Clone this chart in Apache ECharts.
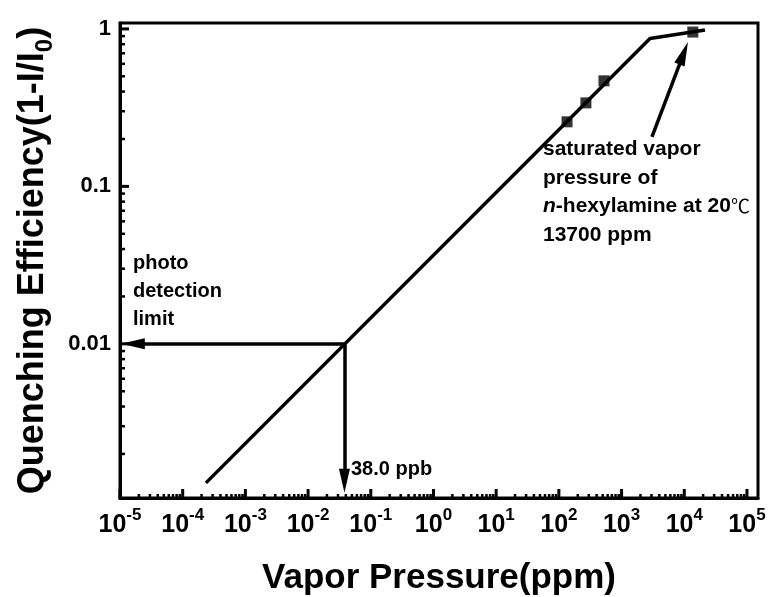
<!DOCTYPE html>
<html>
<head>
<meta charset="utf-8">
<script src="https://cdn.jsdelivr.net/npm/echarts@6/dist/echarts.min.js"></script>
<style>
  html, body { margin: 0; padding: 0; background: #fff; }
  #chart { width: 768px; height: 597px; }
</style>
</head>
<body>
<div id="chart"></div>
<script>
// fitted line (ppm vs 1-I/I0)
var fitX = [2.35e-4, 2840, 21400];
var fitY = [0.00131, 0.87, 0.985];
// measured points
var measX = [135, 270, 524, 13700];
var measY = [0.257, 0.339, 0.468, 0.955];
// detection limit point (38.0 ppb = 0.038 ppm)
var detectX = 0.038;
var detectY = 0.01;
// arrow ends (symbol centres)
var detectLeftEnd = 1.6e-5;
var detectBottomEnd = 0.00135;
var satArrowFrom = [3050, 0.206];
var satArrowTo = [9800, 0.70];
// axes
var xMin = 1e-5, xMax = 1.5e5;
var yMin = 0.00105, yMax = 1.09;
var xTickExp = [-5, -4, -3, -2, -1, 0, 1, 2, 3, 4, 5];
var yTickExp = [-3, -2, -1, 0];
var yTickLabels = { '-2': '0.01', '-1': '0.1', '0': '1' };

var FONT = "'Liberation Sans', Arial, sans-serif";
// narrow arrow head, padded to a square box by the extra moves
var ARROW = 'path://M-9,0M9,0M0,0L5.5,18L-5.5,18Z';

// tick marks: [x, y, length, dir] dir 0 = bottom axis, 1 = left axis
var tickData = [];
xTickExp.forEach(function (e) {
  var base = Math.pow(10, e);
  if (base >= xMin && base <= xMax) tickData.push([base, yMin, 9, 0]);
  for (var k = 2; k <= 9; k++) {
    var v = k * base;
    if (v > xMin && v < xMax) tickData.push([v, yMin, 4, 0]);
  }
});
yTickExp.forEach(function (e) {
  var base = Math.pow(10, e);
  if (base >= yMin && base <= yMax) tickData.push([xMin, base, 9, 1]);
  for (var k = 2; k <= 9; k++) {
    var v = k * base;
    if (v > yMin && v < yMax) tickData.push([xMin, v, 5, 1]);
  }
});

function isDecade(v) {
  var l = Math.log10(v);
  return Math.abs(l - Math.round(l)) < 1e-6;
}

var chart = echarts.init(document.getElementById('chart'));
chart.setOption({
  animation: false,
  backgroundColor: '#fff',
  textStyle: { fontFamily: FONT },
  grid: {
    left: 120, right: 10, top: 23, bottom: 99,
    show: true, borderColor: '#000', borderWidth: 3,
    containLabel: false, outerBoundsMode: 'none'
  },
  xAxis: {
    type: 'log', logBase: 10, min: xMin, max: xMax, interval: 1,
    name: 'Vapor Pressure(ppm)', nameLocation: 'middle', nameGap: 63,
    nameTextStyle: { fontFamily: FONT, fontWeight: 'bold', fontSize: 35, color: '#000' },
    axisLine: { lineStyle: { color: '#000', width: 3 } },
    axisTick: { show: false },
    splitLine: { show: false },
    axisLabel: {
      interval: 0, margin: 9, color: '#000', showMinLabel: true, showMaxLabel: true, hideOverlap: false,
      formatter: function (v) {
        if (!isDecade(v)) return '';
        var e = Math.round(Math.log10(v));
        if (xTickExp.indexOf(e) < 0) return '';
        return '{b|10}{s|' + e + '}';
      },
      rich: {
        b: { fontFamily: FONT, fontWeight: 'bold', fontSize: 25, color: '#000', lineHeight: 31, verticalAlign: 'bottom' },
        s: { fontFamily: FONT, fontWeight: 'bold', fontSize: 17, color: '#000', lineHeight: 31, verticalAlign: 'top' }
      }
    }
  },
  yAxis: {
    type: 'log', logBase: 10, min: yMin, max: yMax, splitNumber: 3,
    name: 'Quenching Efficiency(1-I/I{sub|0})', nameLocation: 'middle', nameGap: 66,
    nameTextStyle: {
      fontFamily: FONT, fontWeight: 'bold', fontSize: 36, color: '#000',
      rich: {
        sub: { fontFamily: FONT, fontWeight: 'bold', fontSize: 24, color: '#000', verticalAlign: 'bottom', padding: [0, 0, -6, 0] }
      }
    },
    axisLine: { lineStyle: { color: '#000', width: 3 } },
    axisTick: { show: false },
    splitLine: { show: false },
    axisLabel: {
      interval: 0, margin: 9, color: '#000', fontFamily: FONT, fontWeight: 'bold', fontSize: 22,
      showMinLabel: true, showMaxLabel: true, hideOverlap: false,
      formatter: function (v) {
        if (!isDecade(v)) return '';
        var e = Math.round(Math.log10(v));
        return yTickLabels[String(e)] || '';
      }
    }
  },
  series: [
    {
      type: 'custom',
      clip: false,
      silent: true,
      encode: { x: 0, y: 1 },
      data: tickData,
      renderItem: function (params, api) {
        var p = api.coord([api.value(0), api.value(1)]);
        var len = api.value(2);
        var dir = api.value(3);
        var shape = dir === 0
          ? { x1: p[0], y1: p[1], x2: p[0], y2: p[1] - len }
          : { x1: p[0], y1: p[1], x2: p[0] + len, y2: p[1] };
        return { type: 'line', shape: shape, style: { stroke: '#000', lineWidth: len > 6 ? 3 : 2.5 } };
      }
    },
    {
      type: 'line',
      data: fitX.map(function (x, i) { return [x, fitY[i]]; }),
      showSymbol: false,
      symbol: 'none',
      lineStyle: { color: '#000', width: 3.5 },
      silent: true,
      markLine: {
        silent: true,
        symbol: ['none', ARROW],
        symbolSize: [18, 24],
        label: { show: false },
        lineStyle: { color: '#000', width: 3.5, type: 'solid' },
        itemStyle: { color: '#000' },
        emphasis: { disabled: true },
        data: [
          [{ coord: [detectX, detectY] }, { coord: [detectLeftEnd, detectY] }],
          [{ coord: [detectX, detectY] }, { coord: [detectX, detectBottomEnd] }],
          [{ coord: satArrowFrom }, { coord: satArrowTo }]
        ]
      }
    },
    {
      type: 'scatter',
      data: measX.map(function (x, i) { return [x, measY[i]]; }),
      symbol: 'rect',
      symbolSize: 11,
      itemStyle: { color: '#000' },
      silent: true
    }
  ],
  graphic: [
    {
      type: 'text', left: 133, top: 249,
      style: {
        text: 'photo\ndetection\nlimit',
        font: 'bold 20px ' + FONT, lineHeight: 28, fill: '#000'
      }
    },
    {
      type: 'text', left: 351, top: 459,
      style: { text: '38.0 ppb', font: 'bold 20px ' + FONT, fill: '#000' }
    },
    {
      type: 'text', left: 543, top: 135,
      style: {
        text: 'saturated vapor\npressure of\n{i|n}-hexylamine at 20{c|℃}\n13700 ppm',
        font: 'bold 21px ' + FONT, lineHeight: 28.5, fill: '#000',
        rich: {
          i: { fontFamily: FONT, fontWeight: 'bold', fontStyle: 'italic', fontSize: 21, fill: '#000', lineHeight: 28.5 },
          c: { fontFamily: "'Noto Sans CJK SC', sans-serif", fontWeight: 'normal', fontSize: 19, fill: '#000', lineHeight: 28.5 }
        }
      }
    }
  ]
});
</script>
</body>
</html>
